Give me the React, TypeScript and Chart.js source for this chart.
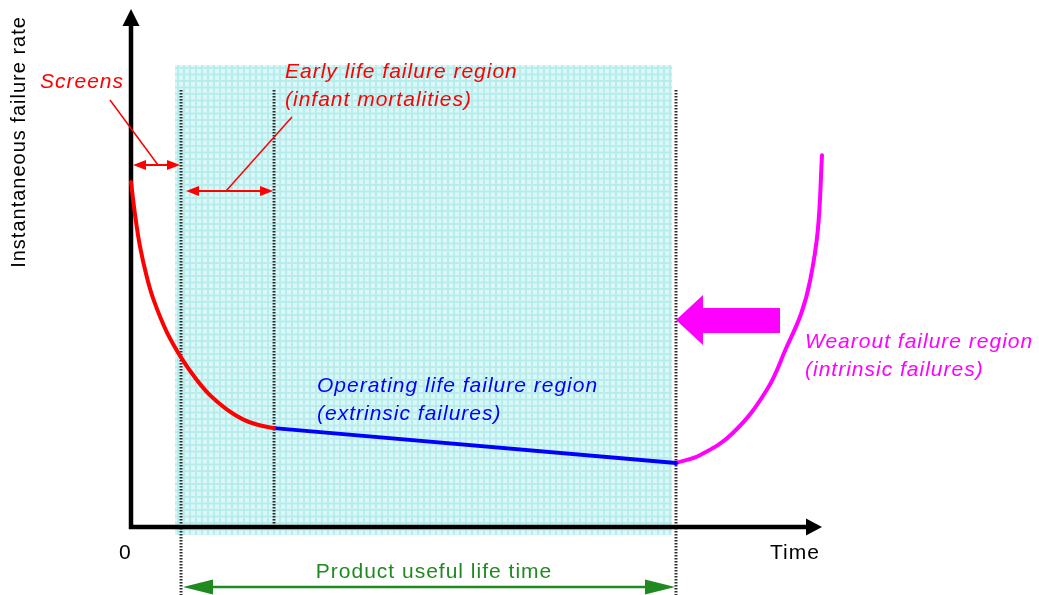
import React, { useEffect, useRef } from "react";
import Chart from "chart.js/auto";

// ---- data (time units 0..100, failure-rate units 0..100) ----
const earlyTime = [0, 0.6, 1.3, 2.3, 3.3, 5.2, 7.4, 9.5, 11.5, 13.9, 16.2, 18.2, 20.7];
const earlyRate = [67.0, 60.5, 54.5, 48.5, 44.0, 37.8, 32.6, 28.6, 25.5, 22.8, 20.9, 19.9, 19.2];
const operatingTime = [20.7, 78.87];
const operatingRate = [19.2, 12.43];
const wearoutTime = [78.87, 82.4, 87.1, 92.0, 94.9, 97.0, 98.3, 99.4, 100];
const wearoutRate = [12.43, 14.0, 18.25, 26.6, 35.0, 41.5, 48.0, 57.7, 72.2];
// region boundaries: screens end, early-life end, useful-life end
const boundaries = [7.24, 20.7, 78.87];
const shadeTime = [6.37, 78.3];
const shadeRate = [-1.55, 89.7];

const FONT = '"Liberation Sans", Arial, sans-serif';

function toPts(xs: number[], ys: number[]) {
  return xs.map((x, i) => ({ x, y: ys[i] }));
}

function arrowHead(ctx: CanvasRenderingContext2D, tipX: number, tipY: number, dir: number, len: number, half: number) {
  ctx.beginPath();
  ctx.moveTo(tipX, tipY);
  ctx.lineTo(tipX - dir * len, tipY - half);
  ctx.lineTo(tipX - dir * len, tipY + half);
  ctx.closePath();
  ctx.fill();
}

function doubleArrow(ctx: CanvasRenderingContext2D, x0: number, x1: number, yy: number, color: string, lw: number, len: number, half: number) {
  ctx.strokeStyle = color;
  ctx.fillStyle = color;
  ctx.lineWidth = lw;
  ctx.beginPath();
  ctx.moveTo(x0 + len * 0.5, yy);
  ctx.lineTo(x1 - len * 0.5, yy);
  ctx.stroke();
  arrowHead(ctx, x0, yy, -1, len, half);
  arrowHead(ctx, x1, yy, 1, len, half);
}

const diagramPlugin = {
  id: "diagram",
  beforeDatasetsDraw(chart: any) {
    const { ctx, scales } = chart;
    const X = (v: number) => scales.x.getPixelForValue(v);
    const Y = (v: number) => scales.y.getPixelForValue(v);
    ctx.save();
    // shaded useful-life region with fine grid
    const sx0 = X(shadeTime[0]);
    const sx1 = X(shadeTime[1]);
    const sy0 = Y(shadeRate[1]);
    const sy1 = Y(shadeRate[0]);
    ctx.fillStyle = "#dcf7f7";
    ctx.fillRect(sx0, sy0, sx1 - sx0, sy1 - sy0);
    ctx.strokeStyle = "rgba(110,218,218,0.32)";
    ctx.lineWidth = 2;
    ctx.beginPath();
    for (let gx = sx0 + 3; gx < sx1; gx += 6) {
      ctx.moveTo(gx, sy0);
      ctx.lineTo(gx, sy1);
    }
    for (let gy = sy0 + 3; gy < sy1; gy += 6.5) {
      ctx.moveTo(sx0, gy);
      ctx.lineTo(sx1, gy);
    }
    ctx.stroke();

    // dotted boundary lines
    ctx.strokeStyle = "#2e2e2e";
    ctx.lineWidth = 3;
    ctx.setLineDash([1.6, 1.4]);
    const top = Y(84.85);
    const bottoms = [chart.height, Y(0), chart.height];
    boundaries.forEach((b, i) => {
      ctx.beginPath();
      ctx.moveTo(X(b), top);
      ctx.lineTo(X(b), bottoms[i]);
      ctx.stroke();
    });
    ctx.setLineDash([]);

    // axes with arrows
    const ox = X(0);
    const oy = Y(0);
    ctx.strokeStyle = "#000";
    ctx.fillStyle = "#000";
    ctx.lineWidth = 4.5;
    ctx.beginPath();
    ctx.moveTo(ox, oy + 2);
    ctx.lineTo(ox, 26);
    ctx.moveTo(ox - 2, oy);
    ctx.lineTo(X(100) - 15, oy);
    ctx.stroke();
    ctx.beginPath();
    ctx.moveTo(ox, 9);
    ctx.lineTo(ox - 8.5, 26);
    ctx.lineTo(ox + 8.5, 26);
    ctx.closePath();
    ctx.fill();
    arrowHead(ctx, X(100), oy, 1, 16, 8.5);
    ctx.restore();
  },
  afterDatasetsDraw(chart: any) {
    const { ctx, scales } = chart;
    const X = (v: number) => scales.x.getPixelForValue(v);
    ctx.save();
    ctx.textBaseline = "alphabetic";
    ctx.letterSpacing = "1px";

    // axis labels
    ctx.fillStyle = "#000";
    ctx.font = `21px ${FONT}`;
    ctx.textAlign = "left";
    ctx.fillText("0", 119, 559);
    ctx.fillText("Time", 770, 559);
    ctx.save();
    ctx.translate(25, 142);
    ctx.rotate(-Math.PI / 2);
    ctx.textAlign = "center";
    ctx.font = `20px ${FONT}`;
    ctx.fillText("Instantaneous failure rate", 0, 0);
    ctx.restore();

    // red annotations
    const red = "#ff0000";
    ctx.font = `italic 21px ${FONT}`;
    ctx.fillStyle = red;
    ctx.fillText("Screens", 40, 88);
    ctx.fillText("Early life failure region", 285, 78);
    ctx.fillText("(infant mortalities)", 285, 106);
    ctx.strokeStyle = red;
    ctx.lineWidth = 1.5;
    ctx.beginPath();
    ctx.moveTo(110, 100);
    ctx.lineTo(158, 165);
    ctx.moveTo(292, 117);
    ctx.lineTo(226, 191);
    ctx.stroke();
    doubleArrow(ctx, X(0) + 2, X(boundaries[0]) - 1, 165, red, 1.8, 13, 5);
    doubleArrow(ctx, X(boundaries[0]) + 5, X(boundaries[1]) - 1, 191, red, 1.8, 13, 5);

    // blue annotation
    ctx.fillStyle = "#0000ff";
    ctx.fillText("Operating life failure region", 317, 392);
    ctx.fillText("(extrinsic failures)", 317, 420);

    // magenta annotation + big arrow
    const mag = "#ff00ff";
    ctx.fillStyle = mag;
    ctx.fillText("Wearout failure region", 805, 348);
    ctx.fillText("(intrinsic failures)", 805, 376);
    const tipX = X(boundaries[2]);
    ctx.beginPath();
    ctx.moveTo(tipX, 320);
    ctx.lineTo(tipX + 27, 295);
    ctx.lineTo(tipX + 27, 308);
    ctx.lineTo(780, 308);
    ctx.lineTo(780, 333);
    ctx.lineTo(tipX + 27, 333);
    ctx.lineTo(tipX + 27, 345);
    ctx.closePath();
    ctx.fill();

    // green useful-life arrow
    const green = "#1f8a1f";
    ctx.fillStyle = green;
    ctx.font = `21px ${FONT}`;
    ctx.textAlign = "center";
    const gx0 = X(boundaries[0]) + 2;
    const gx1 = X(boundaries[2]) - 1;
    ctx.fillText("Product useful life time", (gx0 + gx1) / 2 + 5, 578);
    doubleArrow(ctx, gx0, gx1, 587, green, 2.5, 30, 7.5);
    ctx.restore();
  },
};

export default function App() {
  const ref = useRef<HTMLCanvasElement>(null);
  useEffect(() => {
    if (!ref.current) return;
    const common = { pointRadius: 0, borderWidth: 4, fill: false, clip: false as any, borderCapStyle: "round" as const, tension: 0.4 };
    const chart = new Chart(ref.current, {
      type: "line",
      data: {
        datasets: [
          { ...common, label: "Early life", data: toPts(earlyTime, earlyRate), borderColor: "#ff0000" },
          { ...common, label: "Operating life", data: toPts(operatingTime, operatingRate), borderColor: "#0000ff", tension: 0 },
          { ...common, label: "Wearout", data: toPts(wearoutTime, wearoutRate), borderColor: "#ff00ff" },
        ],
      },
      options: {
        animation: false,
        responsive: true,
        maintainAspectRatio: false,
        events: [],
        layout: { padding: { left: 131, right: 217, top: 12, bottom: 68 } },
        scales: {
          x: { type: "linear", min: 0, max: 100, display: false },
          y: { type: "linear", min: 0, max: 100, display: false },
        },
        plugins: { legend: { display: false }, tooltip: { enabled: false } },
      },
      plugins: [diagramPlugin],
    });
    return () => chart.destroy();
  }, []);
  return (
    <div style={{ position: "absolute", left: 0, top: 0, width: 1039, height: 595, background: "#fff" }}>
      <canvas ref={ref} />
    </div>
  );
}
